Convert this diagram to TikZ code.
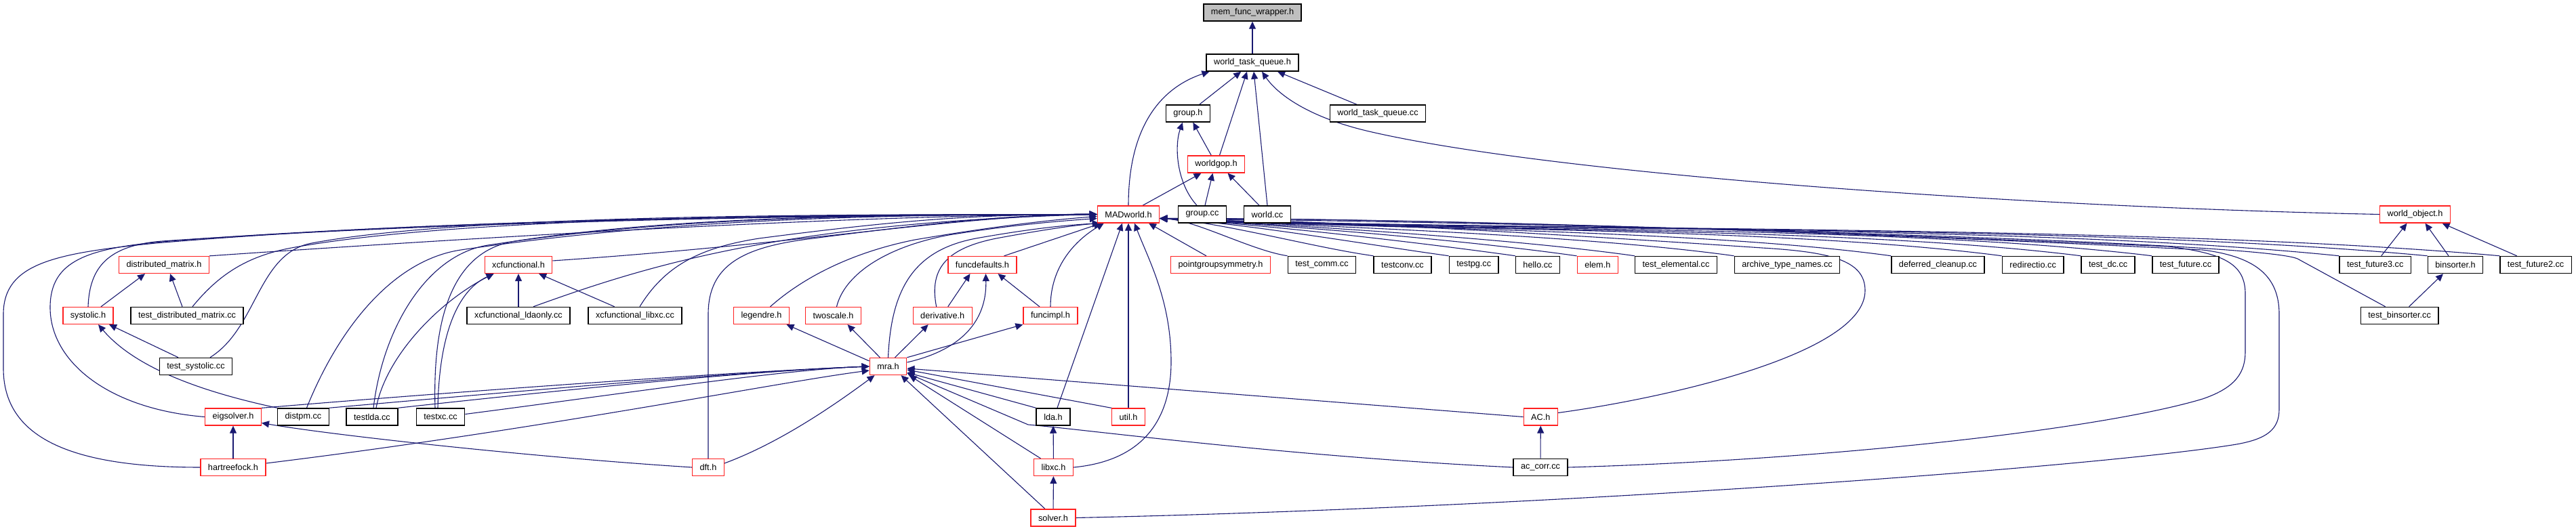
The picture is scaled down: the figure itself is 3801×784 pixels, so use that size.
\documentclass[tikz,border=0pt]{standalone}
\usepackage{fontspec}
\setmainfont{Liberation Sans}
\usepackage{xcolor}
\usepackage{tikz}
\usetikzlibrary{arrows.meta}
\definecolor{IncEdge}{HTML}{191970}
\definecolor{IncRed}{HTML}{FF2020}
\definecolor{IncRoot}{HTML}{BFBFBF}
\pgfdeclarelayer{edges}
\pgfsetlayers{edges,main}

\begin{document}
\begin{tikzpicture}[x=1pt,y=1pt,
  file/.style={draw=black,line width=1.5pt,fill=white,inner xsep=11pt,inner ysep=0pt,
    minimum height=25pt,font=\fontsize{12.7}{15}\selectfont},
  hfile/.style={file,draw=IncRed,line width=1.3pt},
  root/.style={file,fill=IncRoot},
  edge/.style={draw=IncEdge,line width=1.1pt,-{Triangle[length=11pt,width=10pt]}}]
\path[use as bounding box] (0,0) rectangle (3801,784);
% rows 0-4
\node[root] (memfw) at (1848,765.5) {mem\_func\_wrapper.h};
\node[file] (wtq) at (1848,691.5) {world\_task\_queue.h};
\node[file] (grouph) at (1753,616.5) {group.h};
\node[file] (wtqcc) at (2033,616.5) {world\_task\_queue.cc};
\node[hfile] (worldgop) at (1794.5,541.5) {worldgop.h};
\node[hfile] (madworld) at (1665,467.5) {MADworld.h};
\node[file] (groupcc) at (1774,467.5) {group.cc};
\node[file] (worldcc) at (1870,467.5) {world.cc};
\node[hfile] (worldobj) at (3563.5,467.5) {world\_object.h};
% row 5
\node[hfile] (distmat) at (242,393) {distributed\_matrix.h};
\node[hfile] (xcfunc) at (765,393) {xcfunctional.h};
\node[hfile] (funcdef) at (1449.5,393) {funcdefaults.h};
\node[hfile] (pgsym) at (1801,393) {pointgroupsymmetry.h};
\node[file] (testcomm) at (1950.5,393) {test\_comm.cc};
\node[file] (testconv) at (2069.5,393) {testconv.cc};
\node[file] (testpg) at (2174.7,393) {testpg.cc};
\node[file] (hello) at (2269,393) {hello.cc};
\node[hfile] (elem) at (2357.3,393) {elem.h};
\node[file] (testelem) at (2473,393) {test\_elemental.cc};
\node[file] (archive) at (2637,393) {archive\_type\_names.cc};
\node[file] (deferred) at (2859.5,393) {deferred\_cleanup.cc};
\node[file] (redirect) at (2999.6,393) {redirectio.cc};
\node[file] (testdc) at (3110.6,393) {test\_dc.cc};
\node[file] (testfut) at (3225,393) {test\_future.cc};
\node[file] (testfut3) at (3504.7,393) {test\_future3.cc};
\node[file] (binsorter) at (3623,393) {binsorter.h};
\node[file] (testfut2) at (3741.6,393) {test\_future2.cc};
% row 6
\node[hfile] (systolic) at (130,318) {systolic.h};
\node[file] (testdistmat) at (276,318) {test\_distributed\_matrix.cc};
\node[file] (xcldaonly) at (765,318) {xcfunctional\_ldaonly.cc};
\node[file] (xclibxc) at (937,318) {xcfunctional\_libxc.cc};
\node[hfile] (legendre) at (1123.5,318) {legendre.h};
\node[hfile] (twoscale) at (1229.5,318) {twoscale.h};
\node[hfile] (derivative) at (1390.7,318) {derivative.h};
\node[hfile] (funcimpl) at (1550,318) {funcimpl.h};
\node[file] (testbinsorter) at (3540.6,318) {test\_binsorter.cc};
% row 7
\node[file] (testsystolic) at (289,243) {test\_systolic.cc};
\node[hfile] (mrah) at (1310.5,243) {mra.h};
% row 8
\node[hfile] (eigsolver) at (344,168.5) {eigsolver.h};
\node[file] (distpm) at (447.5,168.5) {distpm.cc};
\node[file] (testlda) at (549,168.5) {testlda.cc};
\node[file] (testxc) at (650,168.5) {testxc.cc};
\node[file] (ldah) at (1554,168.5) {lda.h};
\node[hfile] (utilh) at (1665,168.5) {util.h};
\node[hfile] (ach) at (2273.3,168.5) {AC.h};
% rows 9-10
\node[hfile] (hartree) at (344,94) {hartreefock.h};
\node[hfile] (dfth) at (1045,94) {dft.h};
\node[hfile] (libxch) at (1554.5,94) {libxc.h};
\node[file] (accorr) at (2273,94) {ac\_corr.cc};
\node[hfile] (solver) at (1554,19.5) {solver.h};

\begin{pgfonlayer}{edges}
% upper part
\draw[edge] (wtq) -- (memfw);
\draw[edge] (madworld.north) .. controls (1665,600) and (1715,655) .. ([xshift=5pt]wtq.south west);
\draw[edge] (grouph) -- (wtq);
\draw[edge] ([xshift=5pt]worldgop.north) -- ([xshift=-8pt]wtq.south);
\draw[edge] (worldcc.north) -- ([xshift=2pt]wtq.south);
\draw[edge] (worldobj.west) .. controls (3000,478) and (2300,525) .. (2020,590) .. controls (1930,611) and (1885,645) .. ([xshift=14pt]wtq.south);
\draw[edge] ([xshift=-31pt]wtqcc.north) -- ([xshift=37pt]wtq.south);
\draw[edge] (worldgop) -- (grouph);
\draw[edge] ([xshift=-8pt]groupcc.north) .. controls (1735,515) and (1733,570) .. ([xshift=-8pt]grouph.south);
\draw[edge] ([xshift=21pt]madworld.north) -- ([xshift=-22pt]worldgop.south);
\draw[edge] ([xshift=4pt]groupcc.north) -- ([xshift=-5pt]worldgop.south);
\draw[edge] ([xshift=-12pt]worldcc.north) -- ([xshift=17pt]worldgop.south);
\draw[edge] ([xshift=9pt]testfut3.north) -- ([xshift=-12pt]worldobj.south);
\draw[edge] ([xshift=-10pt]binsorter.north) -- ([xshift=15pt]worldobj.south);
\draw[edge] ([xshift=-28pt]testfut2.north) -- ([xshift=40pt]worldobj.south);
\draw[edge] ([xshift=14pt]testbinsorter.north) -- ([xshift=-18pt]binsorter.south);

% left part
\draw[edge] ([xshift=19pt]systolic.north) -- ([xshift=-28pt]distmat.south);
\draw[edge] ([xshift=-7pt]testdistmat.north) -- ([xshift=9pt]distmat.south);
\draw[edge] ([xshift=-26pt]testsystolic.north) -- ([xshift=31pt]systolic.south);
\draw[edge] (distpm.north west) .. controls (300,205) and (200,240) .. ([xshift=15pt]systolic.south);
\draw[edge] (xcldaonly) -- (xcfunc);
\draw[edge] (xclibxc) -- (xcfunc);
\draw[edge] ([xshift=6pt]testlda.north) .. controls (570,260) and (650,340) .. ([xshift=14pt]xcfunc.south west);
\draw[edge] ([xshift=-4pt]testxc.north) .. controls (648,290) and (675,355) .. ([xshift=14pt]xcfunc.south west);
\draw[edge] (hartree) -- (eigsolver);
\draw[edge] (dfth.west) .. controls (800,108) and (500,140) .. ([yshift=-9pt]eigsolver.east);

% around mra.h
\draw[edge] ([xshift=8pt]derivative.north) -- ([xshift=-18pt]funcdef.south);
\draw[edge] ([xshift=-16pt]funcimpl.north) -- ([xshift=23pt]funcdef.south);
\draw[edge] ([yshift=6pt]mrah.east) .. controls (1430,270) and (1456,320) .. ([xshift=5pt]funcdef.south);
\draw[edge] ([xshift=10pt]mrah.north) -- ([xshift=-21pt]derivative.south);
\draw[edge] (mrah.north east) -- (funcimpl.south west);
\draw[edge] ([yshift=8pt]mrah.west) -- ([xshift=37pt]legendre.south);
\draw[edge] ([xshift=-12pt]mrah.north) -- ([xshift=21pt]twoscale.south);
\draw[edge] (eigsolver.north east) .. controls (700,208) and (1100,236) .. (mrah.west);
\draw[edge] (distpm.north east) .. controls (750,205) and (1100,236) .. (mrah.west);
\draw[edge] (testlda.north east) .. controls (800,205) and (1100,236) .. (mrah.west);
\draw[edge] ([yshift=4pt]testxc.east) .. controls (900,200) and (1150,238) .. (mrah.west);
\draw[edge] ([yshift=6pt]hartree.east) .. controls (800,150) and (1150,220) .. ([yshift=-6pt]mrah.west);
\draw[edge] ([yshift=6pt]dfth.east) .. controls (1150,130) and (1230,185) .. ([xshift=-20pt]mrah.south);
\draw[edge] (ldah.north west) -- ([yshift=-9pt]mrah.east);
\draw[edge] (utilh.north west) -- ([yshift=-5pt]mrah.east);
\draw[edge] ([xshift=-19pt]libxch.north) -- ([xshift=31pt]mrah.south);
\draw[edge] ([xshift=-12pt]solver.north) -- ([xshift=19pt]mrah.south);
\draw[edge] (ach.west) -- ([yshift=-3pt]mrah.east);
\draw[edge] (accorr.west) .. controls (1900,110) and (1600,150) .. (1517,157) -- ([yshift=-10pt]mrah.east);
\draw[edge] (libxch) -- (ldah);
\draw[edge] (solver) -- (libxch);
\draw[edge] (accorr) -- (ach);

% into MADworld.h from the left
\draw[edge] (distmat.north east) .. controls (800,440) and (1300,467) .. (madworld.west);
\draw[edge] (systolic.north) .. controls (132,390) and (160,422) .. (240,428) .. controls (700,460) and (1300,467) .. (madworld.west);
\draw[edge] ([xshift=8pt]testdistmat.north) .. controls (320,375) and (360,405) .. (430,418) .. controls (700,468) and (1300,467) .. (madworld.west);
\draw[edge] ([xshift=21pt]testsystolic.north) .. controls (380,300) and (380,410) .. (460,425) .. controls (700,470) and (1300,467) .. (madworld.west);
\draw[edge] (eigsolver.west) .. controls (160,180) and (74,250) .. (74,330) .. controls (74,400) and (130,418) .. (250,428) .. controls (700,463) and (1300,467) .. (madworld.west);
\draw[edge] (hartree.west) .. controls (100,94) and (5,140) .. (5,240) -- (5,320) .. controls (5,395) and (80,410) .. (230,425) .. controls (700,465) and (1300,467) .. (madworld.west);
\draw[edge] ([xshift=5pt]distpm.north) .. controls (500,300) and (580,400) .. (680,415) .. controls (1000,462) and (1300,467) .. (madworld.west);
\draw[edge] ([xshift=2pt]testlda.north) .. controls (565,300) and (630,408) .. (720,422) .. controls (1000,465) and (1300,467) .. (madworld.west);
\draw[edge] ([xshift=-8pt]testxc.north) .. controls (638,320) and (670,414) .. (760,428) .. controls (1000,465) and (1300,467) .. (madworld.west);
\draw[edge] ([yshift=6pt]xcfunc.east) .. controls (1200,425) and (1400,465) .. (madworld.west);
\draw[edge] ([xshift=22pt]xcldaonly.north) .. controls (950,390) and (1150,455) .. (madworld.west);
\draw[edge] ([xshift=7pt]xclibxc.north) .. controls (980,390) and (1030,418) .. (1120,432) .. controls (1350,462) and (1450,467) .. (madworld.west);
\draw[edge] (dfth.north) -- (1045,320) .. controls (1045,395) and (1100,420) .. (1200,432) .. controls (1400,458) and (1500,467) .. (madworld.west);
\draw[edge] ([xshift=13pt]legendre.north) .. controls (1180,370) and (1250,410) .. (1350,430) .. controls (1480,452) and (1560,460) .. ([yshift=-3pt]madworld.west);
\draw[edge] ([xshift=5pt]twoscale.north) .. controls (1245,375) and (1300,418) .. (1400,437) .. controls (1500,453) and (1570,458) .. ([yshift=-6pt]madworld.west);
\draw[edge] (mrah.north) .. controls (1315,360) and (1350,415) .. (1440,432) .. controls (1530,448) and (1580,452) .. ([xshift=4pt]madworld.south west);
\draw[edge] ([xshift=-9pt]derivative.north) .. controls (1370,390) and (1400,418) .. (1470,432) .. controls (1540,445) and (1590,452) .. ([xshift=4pt]madworld.south west);
\draw[edge] ([xshift=32pt]funcdef.north) -- ([xshift=6pt]madworld.south west);
\draw[edge] (funcimpl.north) .. controls (1550,385) and (1580,425) .. ([xshift=10pt]madworld.south west);
\draw[edge] ([xshift=6pt]ldah.north) -- ([xshift=-9pt]madworld.south);
\draw[edge] (utilh) -- (madworld);
\draw[edge] (libxch.east) .. controls (1700,105) and (1728,180) .. (1728,250) .. controls (1728,340) and (1695,400) .. ([xshift=9pt]madworld.south);
\draw[edge] ([xshift=-21pt]pgsym.north) -- ([xshift=30pt]madworld.south);

% into MADworld.h from the right
\draw[edge] (testcomm.north west) .. controls +(-53,8) and +(54,-3) .. ([yshift=-6pt]madworld.east);
\draw[edge] (testconv.north west) .. controls +(-87,12) and +(88,-5) .. ([yshift=-6pt]madworld.east);
\draw[edge] (testpg.north west) .. controls +(-117,16) and +(118,-6) .. ([yshift=-6pt]madworld.east);
\draw[edge] (hello.north west) .. controls +(-143,20) and +(145,-8) .. ([yshift=-6pt]madworld.east);
\draw[edge] (elem.north west) .. controls +(-168,24) and +(170,-9) .. ([yshift=-6pt]madworld.east);
\draw[edge] (testelem.north west) .. controls +(-191,27) and +(193,-10) .. ([yshift=-6pt]madworld.east);
\draw[edge] (archive.north west) .. controls +(-231,32) and +(233,-12) .. ([yshift=-6pt]madworld.east);
\draw[edge] (deferred.north west) .. controls +(-293,40) and +(296,-15) .. ([yshift=-6pt]madworld.east);
\draw[edge] (redirect.north west) .. controls +(-338,44) and +(341,-18) .. ([yshift=-6pt]madworld.east);
\draw[edge] (testdc.north west) .. controls +(-369,46) and +(373,-20) .. ([yshift=-6pt]madworld.east);
\draw[edge] (testfut.north west) .. controls +(-397,48) and +(401,-20) .. ([yshift=-6pt]madworld.east);
\draw[edge] (testfut3.north west) .. controls +(-472,48) and +(477,-20) .. ([yshift=-6pt]madworld.east);
\draw[edge] (binsorter.north west) .. controls +(-510,48) and +(513,-20) .. ([yshift=-6pt]madworld.east);
\draw[edge] (testfut2.north west) .. controls +(-540,48) and +(542,-20) .. ([yshift=-6pt]madworld.east);
\draw[edge] ([xshift=-21pt]testbinsorter.north) -- (3390,402) .. controls (3330,428) and (2300,455) .. ([yshift=-6pt]madworld.east);
\draw[edge] ([yshift=6pt]ach.east) .. controls (2450,195) and (2752,260) .. (2752,355) .. controls (2752,400) and (2700,412) .. (2600,418) .. controls (2200,445) and (1900,460) .. ([yshift=-6pt]madworld.east);
\draw[edge] (accorr.east) .. controls (2700,105) and (3100,150) .. (3250,195) .. controls (3300,212) and (3313,235) .. (3313,265) -- (3313,350) .. controls (3313,395) and (3280,410) .. (3200,420) .. controls (2500,450) and (2000,462) .. ([yshift=-6pt]madworld.east);
\draw[edge] (solver.east) .. controls (2300,35) and (3100,95) .. (3300,128) .. controls (3345,136) and (3363,150) .. (3363,180) -- (3363,320) .. controls (3363,375) and (3330,405) .. (3250,415) .. controls (2600,448) and (2000,462) .. ([yshift=-6pt]madworld.east);
\end{pgfonlayer}
\end{tikzpicture}
\end{document}
